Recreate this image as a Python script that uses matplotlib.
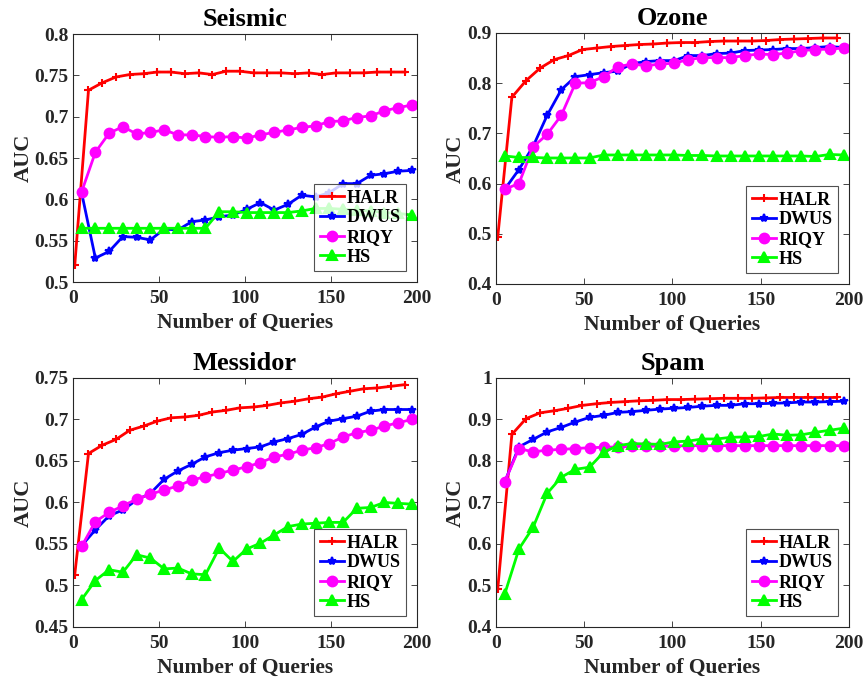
import numpy as np
import matplotlib.pyplot as plt

plt.rcParams['font.family'] = ['Liberation Serif', 'DejaVu Serif']
plt.rcParams['font.weight'] = 'bold'

# query counts
x_halr = np.arange(1, 194, 8)
x_rest = np.arange(5, 198, 8)

methods = ['HALR', 'DWUS', 'RIQY', 'HS']

# Seismic
seismic_halr = [0.520, 0.732, 0.741, 0.748, 0.751, 0.752, 0.754, 0.754, 0.752, 0.753,
                0.751, 0.755, 0.755, 0.753, 0.753, 0.753, 0.752, 0.753, 0.751, 0.753,
                0.753, 0.753, 0.754, 0.754, 0.754]
seismic_dwus = [0.608, 0.529, 0.537, 0.555, 0.554, 0.551, 0.564, 0.563, 0.573, 0.575,
                0.579, 0.581, 0.588, 0.596, 0.587, 0.594, 0.605, 0.603, 0.608, 0.619,
                0.619, 0.629, 0.631, 0.634, 0.635]
seismic_riqy = [0.609, 0.657, 0.680, 0.688, 0.679, 0.681, 0.684, 0.678, 0.678, 0.676,
                0.675, 0.676, 0.674, 0.678, 0.681, 0.684, 0.687, 0.689, 0.694, 0.695,
                0.699, 0.701, 0.707, 0.711, 0.714]
seismic_hs = [0.565, 0.565, 0.565, 0.565, 0.565, 0.565, 0.565, 0.565, 0.565, 0.565,
              0.585, 0.585, 0.584, 0.584, 0.584, 0.584, 0.586, 0.589, 0.589, 0.588,
              0.587, 0.586, 0.584, 0.583, 0.581]

# Ozone
ozone_halr = [0.494, 0.772, 0.805, 0.830, 0.847, 0.855, 0.867, 0.870, 0.873, 0.875,
              0.877, 0.878, 0.880, 0.881, 0.881, 0.883, 0.884, 0.884, 0.884, 0.885,
              0.887, 0.888, 0.889, 0.890, 0.890]
ozone_dwus = [0.589, 0.628, 0.674, 0.736, 0.787, 0.813, 0.817, 0.821, 0.824, 0.839,
              0.843, 0.845, 0.845, 0.855, 0.855, 0.859, 0.860, 0.865, 0.866, 0.867,
              0.869, 0.869, 0.871, 0.873, 0.871]
ozone_riqy = [0.589, 0.600, 0.673, 0.698, 0.736, 0.800, 0.801, 0.813, 0.833, 0.838,
              0.835, 0.838, 0.840, 0.847, 0.851, 0.851, 0.851, 0.855, 0.858, 0.857,
              0.860, 0.865, 0.867, 0.868, 0.870]
ozone_hs = [0.655, 0.652, 0.652, 0.651, 0.651, 0.651, 0.651, 0.657, 0.657, 0.657,
            0.657, 0.657, 0.657, 0.656, 0.656, 0.655, 0.655, 0.655, 0.655, 0.655,
            0.655, 0.655, 0.654, 0.658, 0.657]

# Messidor
messidor_halr = [0.513, 0.659, 0.669, 0.676, 0.687, 0.692, 0.698, 0.702, 0.703, 0.705,
                 0.709, 0.711, 0.714, 0.715, 0.717, 0.720, 0.722, 0.725, 0.727, 0.731,
                 0.734, 0.737, 0.738, 0.740, 0.742]
messidor_dwus = [0.548, 0.567, 0.584, 0.591, 0.603, 0.611, 0.628, 0.638, 0.646, 0.655,
                 0.660, 0.663, 0.665, 0.667, 0.673, 0.677, 0.682, 0.691, 0.698, 0.701,
                 0.704, 0.710, 0.712, 0.712, 0.712]
messidor_riqy = [0.547, 0.577, 0.588, 0.596, 0.604, 0.610, 0.615, 0.620, 0.627, 0.631,
                 0.635, 0.639, 0.643, 0.648, 0.655, 0.658, 0.663, 0.666, 0.671, 0.679,
                 0.684, 0.687, 0.692, 0.696, 0.700]
messidor_hs = [0.483, 0.506, 0.519, 0.516, 0.537, 0.533, 0.520, 0.521, 0.514, 0.513,
               0.545, 0.529, 0.544, 0.551, 0.561, 0.571, 0.574, 0.575, 0.576, 0.576,
               0.593, 0.594, 0.600, 0.599, 0.598]

# Spam
spam_halr = [0.492, 0.864, 0.902, 0.916, 0.921, 0.927, 0.934, 0.938, 0.941, 0.943,
             0.945, 0.946, 0.948, 0.948, 0.949, 0.950, 0.951, 0.951, 0.951, 0.952,
             0.953, 0.953, 0.953, 0.953, 0.953]
spam_dwus = [0.750, 0.834, 0.852, 0.870, 0.881, 0.894, 0.905, 0.910, 0.917, 0.919,
             0.922, 0.925, 0.927, 0.929, 0.932, 0.934, 0.934, 0.938, 0.938, 0.939,
             0.940, 0.942, 0.942, 0.943, 0.944]
spam_riqy = [0.750, 0.830, 0.822, 0.826, 0.828, 0.830, 0.832, 0.833, 0.834, 0.835,
             0.836, 0.836, 0.836, 0.837, 0.837, 0.837, 0.837, 0.837, 0.837, 0.837,
             0.837, 0.837, 0.837, 0.837, 0.837]
spam_hs = [0.480, 0.588, 0.640, 0.722, 0.761, 0.780, 0.785, 0.821, 0.837, 0.842,
           0.841, 0.840, 0.846, 0.848, 0.853, 0.853, 0.857, 0.858, 0.859, 0.865,
           0.862, 0.863, 0.869, 0.874, 0.879]

panels = [
    ('Seismic', [seismic_halr, seismic_dwus, seismic_riqy, seismic_hs],
     (0.5, 0.8), np.arange(0.5, 0.801, 0.05), ['0.5', '0.55', '0.6', '0.65', '0.7', '0.75', '0.8'],
     [0.0844, 0.5871, 0.3977, 0.3631]),
    ('Ozone', [ozone_halr, ozone_dwus, ozone_riqy, ozone_hs],
     (0.4, 0.9), np.arange(0.4, 0.901, 0.1), ['0.4', '0.5', '0.6', '0.7', '0.8', '0.9'],
     [0.5734, 0.5842, 0.4081, 0.3675]),
    ('Messidor', [messidor_halr, messidor_dwus, messidor_riqy, messidor_hs],
     (0.45, 0.75), np.arange(0.45, 0.751, 0.05), ['0.45', '0.5', '0.55', '0.6', '0.65', '0.7', '0.75'],
     [0.0844, 0.0820, 0.3977, 0.3646]),
    ('Spam', [spam_halr, spam_dwus, spam_riqy, spam_hs],
     (0.4, 1.0), np.arange(0.4, 1.001, 0.1), ['0.4', '0.5', '0.6', '0.7', '0.8', '0.9', '1'],
     [0.5734, 0.0820, 0.4081, 0.3646]),
]

styles = [('#ff0000', '+', 6), ('#0000ff', '*', 6), ('#ff00ff', 'o', 7), ('#00ff00', '^', 7)]

fig = plt.figure(figsize=(8.65, 6.83), dpi=100)

for title, series, ylim, yticks, ylabels, pos in panels:
    ax = fig.add_axes(pos)
    for i, (name, vals) in enumerate(zip(methods, series)):
        c, m, ms = styles[i]
        xs = x_halr if i == 0 else x_rest
        ax.plot(xs, vals, color=c, marker=m, markersize=ms, linewidth=2,
                markeredgewidth=1.5, markerfacecolor=c, label=name)
    ax.set_xlim(0, 200)
    ax.set_ylim(*ylim)
    ax.set_xticks([0, 50, 100, 150, 200])
    ax.set_yticks(yticks)
    ax.set_yticklabels(ylabels)
    ax.tick_params(direction='in', top=True, right=True, labelsize=14, length=4,
                   width=0.6, colors='#262626', labelcolor='#262626')
    ax.tick_params(axis='x', pad=6)
    ax.tick_params(axis='y', pad=3)
    for sp in ax.spines.values():
        sp.set_linewidth(0.8)
        sp.set_color('#262626')
    ax.set_title(title, fontsize=19, fontweight='bold', pad=6)
    ax.set_xlabel('Number of Queries', fontsize=15.5, fontweight='bold', color='#262626', labelpad=4)
    ax.set_ylabel('AUC', fontsize=16, fontweight='bold', color='#262626', labelpad=1)
    leg = ax.legend(loc='lower right', fontsize=13, frameon=True, fancybox=False,
                    handlelength=1.35, handletextpad=0.15, borderpad=0.3,
                    labelspacing=0.15, borderaxespad=0.6)
    leg.get_frame().set_edgecolor('#262626')
    leg.get_frame().set_linewidth(0.8)

fig.savefig('out.png', dpi=100)
